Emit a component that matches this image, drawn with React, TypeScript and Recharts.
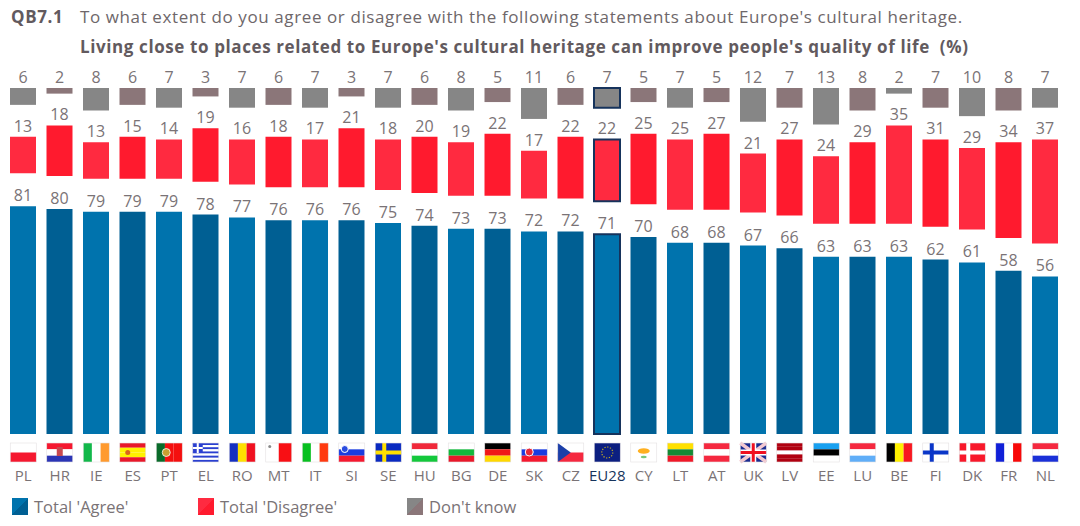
import React from 'react';
import { BarChart, Bar, XAxis, YAxis, Cell, LabelList, Legend } from 'recharts';

const countries = ['PL', 'HR', 'IE', 'ES', 'PT', 'EL', 'RO', 'MT', 'IT', 'SI', 'SE', 'HU', 'BG', 'DE', 'SK', 'CZ', 'EU28', 'CY', 'LT', 'AT', 'UK', 'LV', 'EE', 'LU', 'BE', 'FI', 'DK', 'FR', 'NL'];
const agree = [81, 80, 79, 79, 79, 78, 77, 76, 76, 76, 75, 74, 73, 73, 72, 72, 71, 70, 68, 68, 67, 66, 63, 63, 63, 62, 61, 58, 56];
const disagree = [13, 18, 13, 15, 14, 19, 16, 18, 17, 21, 18, 20, 19, 22, 17, 22, 22, 25, 25, 27, 21, 27, 24, 29, 35, 31, 29, 34, 37];
const dontKnow = [6, 2, 8, 6, 7, 3, 7, 6, 7, 3, 7, 6, 8, 5, 11, 6, 7, 5, 7, 5, 12, 7, 13, 8, 2, 7, 10, 8, 7];

// the panels are stacked with empty space between them for the labels
const LABEL_GAP = 11.7;
const AXIS_TOP = 123;

const chartData = countries.map((name, i) => ({
  name,
  agree: agree[i],
  gapLow: LABEL_GAP,
  disagree: disagree[i],
  gapHigh: AXIS_TOP - agree[i] - LABEL_GAP - disagree[i] - dontKnow[i],
  dontKnow: dontKnow[i],
}));

const FONT = '"Open Sans", "Noto Sans", sans-serif';
const TEXT = '#7a7376';
const NAVY = '#16335c';

const BLUES = ['#0073ad', '#005f93'];
const REDS = ['#ff2a40', '#ff1a2e'];
const GREYS = ['#868686', '#8b7679'];

type Flag = { dir: 'h' | 'v'; colors: string[] };

const flagStripes: Record<string, Flag> = {
  PL: { dir: 'h', colors: ['#ffffff', '#f5182f'] },
  HR: { dir: 'h', colors: ['#f5182f', '#ffffff', '#2b35b5'] },
  IE: { dir: 'v', colors: ['#12b84a', '#ffffff', '#ff9a2e'] },
  ES: { dir: 'h', colors: ['#e8182a', '#fff200', '#fff200', '#e8182a'] },
  PT: { dir: 'v', colors: ['#0a6b2a', '#f40f0f', '#f40f0f'] },
  EL: { dir: 'h', colors: ['#2a3fd0', '#ffffff', '#2a3fd0', '#ffffff', '#2a3fd0', '#ffffff', '#2a3fd0', '#ffffff', '#2a3fd0'] },
  RO: { dir: 'v', colors: ['#1530c0', '#ffe000', '#f01020'] },
  MT: { dir: 'v', colors: ['#ffffff', '#f80f14'] },
  IT: { dir: 'v', colors: ['#08c020', '#ffffff', '#ff3a10'] },
  SI: { dir: 'h', colors: ['#ffffff', '#1a3ce0', '#f5182f'] },
  SE: { dir: 'h', colors: ['#0a2ac0'] },
  HU: { dir: 'h', colors: ['#f0283a', '#ffffff', '#14c83c'] },
  BG: { dir: 'h', colors: ['#ffffff', '#12b83c', '#e8182a'] },
  DE: { dir: 'h', colors: ['#000000', '#f01818', '#ffd800'] },
  SK: { dir: 'h', colors: ['#ffffff', '#1a3ce0', '#f5182f'] },
  CZ: { dir: 'h', colors: ['#ffffff', '#f5283f'] },
  EU28: { dir: 'h', colors: ['#0c1f80'] },
  CY: { dir: 'h', colors: ['#ffffff'] },
  LT: { dir: 'h', colors: ['#ffe000', '#158a35', '#f01828'] },
  AT: { dir: 'h', colors: ['#f5283f', '#ffffff', '#f5283f'] },
  UK: { dir: 'h', colors: ['#1a2c90'] },
  LV: { dir: 'h', colors: ['#b00010', '#b00010', '#ffffff', '#b00010', '#b00010'] },
  EE: { dir: 'h', colors: ['#18a0f0', '#000000', '#ffffff'] },
  LU: { dir: 'h', colors: ['#f5283f', '#ffffff', '#60aef8'] },
  BE: { dir: 'v', colors: ['#000000', '#fff000', '#f81820'] },
  FI: { dir: 'h', colors: ['#ffffff'] },
  DK: { dir: 'h', colors: ['#f8182a'] },
  FR: { dir: 'v', colors: ['#1020d8', '#ffffff', '#f80808'] },
  NL: { dir: 'h', colors: ['#f5283f', '#ffffff', '#1a30d8'] },
};

const FLAG_W = 26;
const FLAG_H = 19;

const NordicCross = ({ color }: { color: string }) => (
  <>
    <rect x={7} y={0} width={4} height={FLAG_H} fill={color} />
    <rect x={0} y={7.5} width={FLAG_W} height={4} fill={color} />
  </>
);

const FlagExtras = ({ code }: { code: string }) => {
  switch (code) {
    case 'HR':
      return <rect x={10} y={4} width={6} height={9} fill="#c8484f" />;
    case 'ES':
      return <circle cx={8} cy={9.5} r={2.5} fill="#d8641c" />;
    case 'PT':
      return <circle cx={10} cy={9.5} r={4} fill="#c8a030" stroke="#ffffff" strokeWidth={0.8} />;
    case 'EL':
      return (
        <>
          <rect x={0} y={0} width={10} height={10} fill="#2a3fd0" />
          <rect x={4} y={0} width={2} height={10} fill="#ffffff" />
          <rect x={0} y={4} width={10} height={2} fill="#ffffff" />
        </>
      );
    case 'MT':
      return <circle cx={4} cy={3.5} r={1.5} fill="#8a8a8a" />;
    case 'SI':
      return <circle cx={6} cy={6} r={3.5} fill="#2a4ce0" stroke="#ffffff" strokeWidth={1} />;
    case 'SE':
      return <NordicCross color="#ffe000" />;
    case 'FI':
      return <NordicCross color="#0a36c8" />;
    case 'DK':
      return <NordicCross color="#ffffff" />;
    case 'SK':
      return <circle cx={8} cy={9} r={4} fill="#e8283a" stroke="#ffffff" strokeWidth={1} />;
    case 'CZ':
      return <polygon points={`0,0 13,9.5 0,19`} fill="#1c3fa8" />;
    case 'EU28':
      return <circle cx={13} cy={9.5} r={5.5} fill="none" stroke="#c8b020" strokeWidth={1.2} strokeDasharray="1.2 1.6" />;
    case 'CY':
      return (
        <>
          <ellipse cx={13} cy={8} rx={6} ry={2.8} fill="#ffb020" />
          <ellipse cx={13} cy={14} rx={3} ry={1.2} fill="#7ac87a" />
        </>
      );
    case 'UK':
      return (
        <>
          <line x1={0} y1={0} x2={FLAG_W} y2={FLAG_H} stroke="#f4c8d0" strokeWidth={3.5} />
          <line x1={FLAG_W} y1={0} x2={0} y2={FLAG_H} stroke="#f4c8d0" strokeWidth={3.5} />
          <rect x={10} y={0} width={6} height={FLAG_H} fill="#ffffff" />
          <rect x={0} y={6.5} width={FLAG_W} height={6} fill="#ffffff" />
          <rect x={11.5} y={0} width={3} height={FLAG_H} fill="#f01020" />
          <rect x={0} y={8} width={FLAG_W} height={3} fill="#f01020" />
        </>
      );
    default:
      return null;
  }
};

const CountryTick = ({ x, y, payload }: { x?: number; y?: number; payload?: { value: string } }) => {
  const code = payload?.value ?? '';
  const flag = flagStripes[code];
  const n = flag.colors.length;
  return (
    <g transform={`translate(${(x ?? 0) - FLAG_W / 2},${(y ?? 0) + 9})`}>
      {flag.colors.map((c, i) =>
        flag.dir === 'h' ? (
          <rect key={i} x={0} y={(i * FLAG_H) / n} width={FLAG_W} height={FLAG_H / n} fill={c} />
        ) : (
          <rect key={i} x={(i * FLAG_W) / n} y={0} width={FLAG_W / n} height={FLAG_H} fill={c} />
        ),
      )}
      <FlagExtras code={code} />
      <rect x={0} y={0} width={FLAG_W} height={FLAG_H} fill="none" stroke="#e4e0e2" strokeWidth={0.6} />
      <text
        x={FLAG_W / 2}
        y={38}
        textAnchor="middle"
        fontFamily={FONT}
        fontSize={15}
        fill={code === 'EU28' ? NAVY : TEXT}
      >
        {code}
      </text>
    </g>
  );
};

const LEGEND_LEFT = [12, 198, 407];
const LEGEND_SWATCH = [BLUES, REDS, GREYS];

const ChartLegend = ({ payload }: { payload?: Array<{ value: string; type?: string }> }) => (
  <div style={{ position: 'relative', height: 32, fontFamily: FONT, fontSize: 16.5, color: TEXT }}>
    {(payload ?? [])
      .filter((p) => p.type !== 'none')
      .map((p, i) => (
        <div key={p.value} style={{ position: 'absolute', left: LEGEND_LEFT[i], top: 1, display: 'flex', alignItems: 'center' }}>
          <span
            style={{
              width: 16,
              height: 17,
              marginRight: 6,
              background: `linear-gradient(135deg, ${LEGEND_SWATCH[i][0]} 50%, ${LEGEND_SWATCH[i][1]} 50%)`,
            }}
          />
          {p.value}
        </div>
      ))}
  </div>
);

const labelStyle = { fontFamily: FONT, fontSize: 16, fill: TEXT };

const titleStyle: React.CSSProperties = {
  position: 'absolute',
  fontFamily: FONT,
  fontSize: 17,
  letterSpacing: 0.6,
  whiteSpace: 'nowrap',
};

// EU28 carries a navy outline in every panel
const barCells = (colors: string[]) =>
  countries.map((name, i) => (
    <Cell
      key={name}
      fill={colors[i % 2]}
      stroke={name === 'EU28' ? NAVY : undefined}
      strokeWidth={name === 'EU28' ? 2 : 0}
    />
  ));

export default function App() {
  return (
    <div style={{ position: 'absolute', left: 0, top: 0, width: 1080, height: 526, background: '#fff', overflow: 'hidden' }}>
      <div style={{ ...titleStyle, left: 11, top: 5, fontWeight: 700, color: '#625a5e' }}>QB7.1</div>
      <div style={{ ...titleStyle, left: 80, top: 5, color: '#6e676a' }}>
        To what extent do you agree or disagree with the following statements about Europe's cultural heritage.
      </div>
      <div style={{ ...titleStyle, left: 80, top: 35, fontWeight: 700, color: '#625a5e' }}>
        Living close to places related to Europe's cultural heritage can improve people's quality of life&nbsp; (%)
      </div>
      <BarChart
        width={1080}
        height={526}
        data={chartData}
        barSize={26}
        margin={{ top: 88, right: 16.5, bottom: 0, left: 5 }}
      >
        <XAxis
          dataKey="name"
          height={60}
          interval={0}
          axisLine={false}
          tickLine={false}
          tickSize={0}
          tickMargin={0}
          tick={<CountryTick />}
        />
        <YAxis hide domain={[0, AXIS_TOP]} />
        <Legend verticalAlign="bottom" height={32} itemSorter={null} content={<ChartLegend />} wrapperStyle={{ left: 0, width: 1080 }} />
        <Bar dataKey="agree" name="Total 'Agree'" stackId="a" fill={BLUES[0]} isAnimationActive={false}>
          {barCells(BLUES)}
          <LabelList dataKey="agree" position="top" offset={5} style={labelStyle} />
        </Bar>
        <Bar dataKey="gapLow" stackId="a" fill="transparent" legendType="none" isAnimationActive={false} />
        <Bar dataKey="disagree" name="Total 'Disagree'" stackId="a" fill={REDS[0]} isAnimationActive={false}>
          {barCells(REDS)}
          <LabelList dataKey="disagree" position="top" offset={5} style={labelStyle} />
        </Bar>
        <Bar dataKey="gapHigh" stackId="a" fill="transparent" legendType="none" isAnimationActive={false} />
        <Bar dataKey="dontKnow" name="Don't know" stackId="a" fill={GREYS[0]} isAnimationActive={false}>
          {barCells(GREYS)}
          <LabelList dataKey="dontKnow" position="top" offset={5} style={labelStyle} />
        </Bar>
      </BarChart>
    </div>
  );
}
